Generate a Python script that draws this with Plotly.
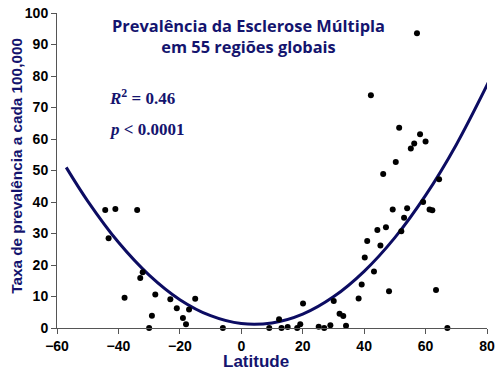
import plotly.graph_objects as go

# Scatter data (latitude, prevalence per 100,000)
lat = [-44.3, -41.0, -33.9, -43.2, -32.9, -32.1, -38.0, -28.0, -23.1, -29.1, -30.0,
       -21.0, -19.0, -18.0, -17.0, -15.0, -6.0,
       9.1, 12.3, 13.1, 15.1, 18.2, 19.2, 20.1, 25.2, 27.0, 29.0, 30.1, 32.0, 33.2, 34.1,
       38.2, 39.2, 40.2, 41.0, 43.2, 44.3, 45.3, 47.1, 48.1, 49.3, 52.1, 53.0, 54.0,
       59.2, 61.3, 62.2, 63.4, 67.1,
       57.2, 51.4, 58.2, 60.0, 56.3, 55.2, 50.3, 46.2, 64.4, 42.2]
prev = [37.5, 37.8, 37.5, 28.5, 15.9, 17.7, 9.6, 10.6, 9.1, 3.9, 0.0,
        6.3, 3.2, 1.2, 5.9, 9.3, 0.0,
        0.0, 2.8, 0.0, 0.3, 0.0, 1.2, 7.8, 0.4, 0.0, 0.9, 8.6, 4.5, 3.8, 0.7,
        9.4, 13.8, 22.4, 27.6, 17.9, 31.1, 26.2, 32.0, 11.7, 37.6, 30.7, 35.0, 38.0,
        40.0, 37.6, 37.4, 12.1, 0.0,
        93.6, 63.6, 61.5, 59.2, 58.6, 57.0, 52.7, 48.9, 47.2, 73.9]

# Trend curve
curve_lat = [-57, -50, -40, -30, -20, -10, 0, 10, 20, 30, 40, 50, 60, 70, 83]
curve_val = [51.0, 40.3, 27.2, 16.8, 9.0, 3.9, 1.4, 1.6, 4.4, 9.9, 18.0, 28.7, 42.1, 58.2, 83.0]

x_ticks = [-60, -40, -20, 0, 20, 40, 60, 80]
y_ticks = [0, 10, 20, 30, 40, 50, 60, 70, 80, 90, 100]

navy = "#14146e"

fig = go.Figure()
fig.add_trace(go.Scatter(x=curve_lat, y=curve_val, mode="lines", line_shape="spline",
                         cliponaxis=False,
                         line=dict(color="#0c0c62", width=3), hoverinfo="skip"))
fig.add_trace(go.Scatter(x=lat, y=prev, mode="markers", cliponaxis=False,
                         marker=dict(color="black", size=6)))

axis_common = dict(showgrid=False, zeroline=False, showline=True, linecolor="#555555",
                   linewidth=1, ticks="outside", ticklen=5, tickcolor="#555555",
                   ticklabeloverflow="allow",
                   tickfont=dict(family="Liberation Sans", size=14, color="black", weight="bold"))

fig.update_xaxes(range=[-60, 80], tickvals=x_ticks, **axis_common)
fig.update_yaxes(range=[0, 100], tickvals=y_ticks, **axis_common)

fig.update_layout(
    width=500, height=377,
    margin=dict(l=57, r=12, t=5, b=49),
    plot_bgcolor="white", paper_bgcolor="white",
    showlegend=False,
    annotations=[
        dict(text="Prevalência da Esclerose Múltipla<br>em 55 regiões globais",
             xref="paper", yref="paper", x=0.445, y=1.004, xanchor="center", yanchor="top",
             showarrow=False, align="center",
             font=dict(family="Open Sans", size=16.4, color=navy, weight="bold")),
        dict(text="<i>R</i><sup>2</sup> = 0.46",
             xref="paper", yref="paper", x=0.117, y=0.734, xanchor="left", yanchor="middle",
             showarrow=False,
             font=dict(family="Liberation Serif", size=17, color=navy, weight="bold")),
        dict(text="<i>p</i> < 0.0001",
             xref="paper", yref="paper", x=0.117, y=0.631, xanchor="left", yanchor="middle",
             showarrow=False,
             font=dict(family="Liberation Serif", size=17, color=navy, weight="bold")),
        dict(text="Latitude", xref="paper", yref="paper", x=0.462, y=-0.105,
             xanchor="center", yanchor="middle", showarrow=False,
             font=dict(family="Liberation Sans", size=17, color=navy, weight="bold")),
        dict(text="Taxa de prevalência a cada 100,000", xref="paper", yref="paper",
             x=-0.093, y=0.515, xanchor="center", yanchor="middle", textangle=-90,
             showarrow=False,
             font=dict(family="Liberation Sans", size=15.3, color=navy, weight="bold")),
    ],
)

fig.write_html("out.html", config={"displayModeBar": False},
               post_script="document.body.style.margin='0';")
